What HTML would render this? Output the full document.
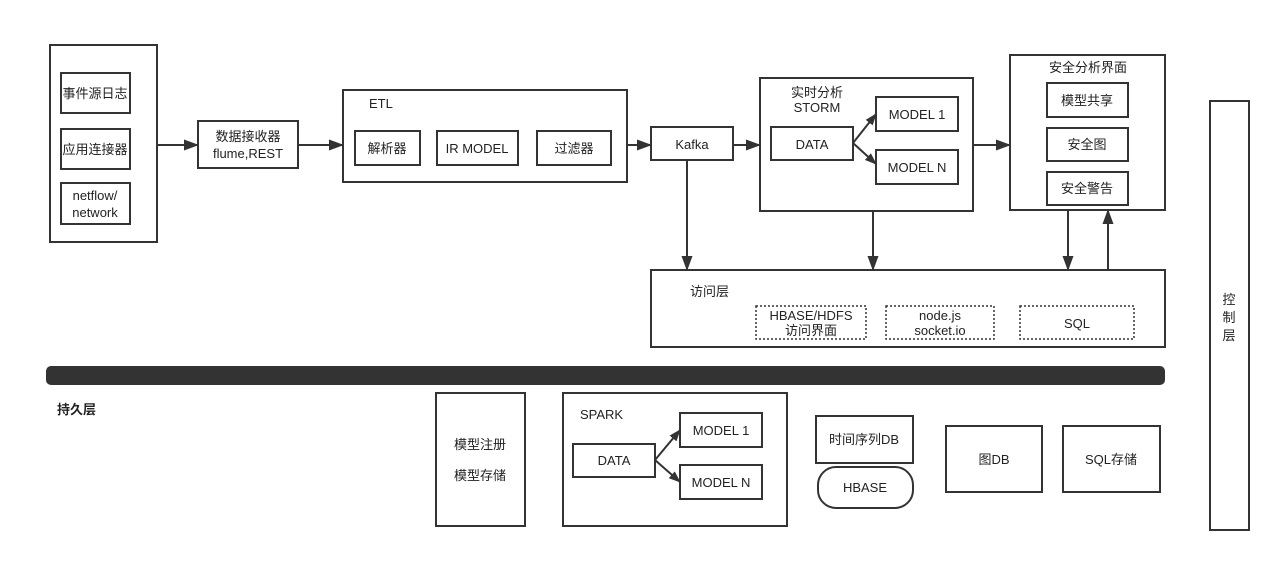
<!DOCTYPE html>
<html><head><meta charset="utf-8"><style>
html,body{margin:0;padding:0;background:#fff;}
svg text{font-family:"Liberation Sans","Noto Sans CJK SC",sans-serif;font-size:13px;fill:#222;}
</style></head><body>
<svg width="1280" height="562" viewBox="0 0 1280 562" xmlns="http://www.w3.org/2000/svg">
<defs><marker id="a" markerWidth="15" markerHeight="11" refX="14" refY="5.5" orient="auto" markerUnits="userSpaceOnUse"><path d="M0,0 L15,5.5 L0,11 z" fill="#333"/></marker>
<marker id="b" markerWidth="12" markerHeight="9" refX="11" refY="4.5" orient="auto" markerUnits="userSpaceOnUse"><path d="M0,0 L12,4.5 L0,9 z" fill="#333"/></marker></defs>
<g fill="none" stroke="#333" stroke-width="2">
<rect x="50" y="45" width="107" height="197"/>
<rect x="61" y="73" width="69" height="40"/>
<rect x="61" y="129" width="69" height="40"/>
<rect x="61" y="183" width="69" height="41"/>
<rect x="198" y="121" width="100" height="47"/>
<rect x="343" y="90" width="284" height="92"/>
<rect x="355" y="131" width="65" height="34"/>
<rect x="437" y="131" width="81" height="34"/>
<rect x="537" y="131" width="74" height="34"/>
<rect x="651" y="127" width="82" height="33"/>
<rect x="760" y="78" width="213" height="133"/>
<rect x="771" y="127" width="82" height="33"/>
<rect x="876" y="97" width="82" height="34"/>
<rect x="876" y="150" width="82" height="34"/>
<rect x="1010" y="55" width="155" height="155"/>
<rect x="1047" y="83" width="81" height="34"/>
<rect x="1047" y="128" width="81" height="33"/>
<rect x="1047" y="172" width="81" height="33"/>
<rect x="651" y="270" width="514" height="77"/>
<rect x="1210" y="101" width="39" height="429"/>
<rect x="436" y="393" width="89" height="133"/>
<rect x="563" y="393" width="224" height="133"/>
<rect x="573" y="444" width="82" height="33"/>
<rect x="680" y="413" width="82" height="34"/>
<rect x="680" y="465" width="82" height="34"/>
<rect x="816" y="416" width="97" height="47"/>
<rect x="818" y="467" width="95" height="41" rx="18"/>
<rect x="946" y="426" width="96" height="66"/>
<rect x="1063" y="426" width="97" height="66"/>
</g>
<g fill="none" stroke="#333" stroke-width="1.5" stroke-dasharray="2,2">
<rect x="756" y="306" width="110" height="33"/>
<rect x="886" y="306" width="108" height="33"/>
<rect x="1020" y="306" width="114" height="33"/>
</g>
<g stroke="#333" stroke-width="2" marker-end="url(#a)">
<line x1="157" y1="145" x2="198" y2="145"/>
<line x1="298" y1="145" x2="343" y2="145"/>
<line x1="627" y1="145" x2="651" y2="145"/>
<line x1="733" y1="145" x2="760" y2="145"/>
<line x1="973" y1="145" x2="1010" y2="145"/>
<line x1="687" y1="160" x2="687" y2="270"/>
<line x1="873" y1="211" x2="873" y2="270"/>
<line x1="1068" y1="210" x2="1068" y2="270"/>
<line x1="1108" y1="270" x2="1108" y2="210"/>
</g>
<g stroke="#333" stroke-width="2" marker-end="url(#b)">
<line x1="853" y1="143" x2="876" y2="114"/>
<line x1="853" y1="143" x2="876" y2="164"/>
<line x1="655" y1="460" x2="680" y2="430"/>
<line x1="655" y1="460" x2="680" y2="482"/>
</g>
<rect x="46" y="366" width="1119" height="19" rx="5" fill="#333"/>
<g text-anchor="middle">
<text x="95" y="98">事件源日志</text>
<text x="95" y="154">应用连接器</text>
<text x="95" y="200">netflow/</text>
<text x="95" y="217">network</text>
<text x="248" y="141">数据接收器</text>
<text x="248" y="158">flume,REST</text>
<text x="387" y="153">解析器</text>
<text x="477" y="153">IR MODEL</text>
<text x="574" y="153">过滤器</text>
<text x="692" y="149">Kafka</text>
<text x="812" y="149">DATA</text>
<text x="917" y="119">MODEL 1</text>
<text x="917" y="172">MODEL N</text>
<text x="817" y="97">实时分析</text>
<text x="817" y="112">STORM</text>
<text x="1088" y="72">安全分析界面</text>
<text x="1087" y="105">模型共享</text>
<text x="1087" y="149">安全图</text>
<text x="1087" y="193">安全警告</text>
<text x="811" y="320">HBASE/HDFS</text>
<text x="811" y="335">访问界面</text>
<text x="940" y="320">node.js</text>
<text x="940" y="335">socket.io</text>
<text x="1077" y="328">SQL</text>
<text x="480" y="449">模型注册</text>
<text x="480" y="480">模型存储</text>
<text x="614" y="465">DATA</text>
<text x="721" y="435">MODEL 1</text>
<text x="721" y="487">MODEL N</text>
<text x="864" y="444">时间序列DB</text>
<text x="865" y="492">HBASE</text>
<text x="994" y="464">图DB</text>
<text x="1111" y="464">SQL存储</text>
<text x="1229" y="304">控</text>
<text x="1229" y="322">制</text>
<text x="1229" y="340">层</text>
</g>
<text x="369" y="108">ETL</text>
<text x="690" y="296">访问层</text>
<text x="580" y="419">SPARK</text>
<text x="57" y="414" style="font-weight:bold">持久层</text>
</svg>
</body></html>
